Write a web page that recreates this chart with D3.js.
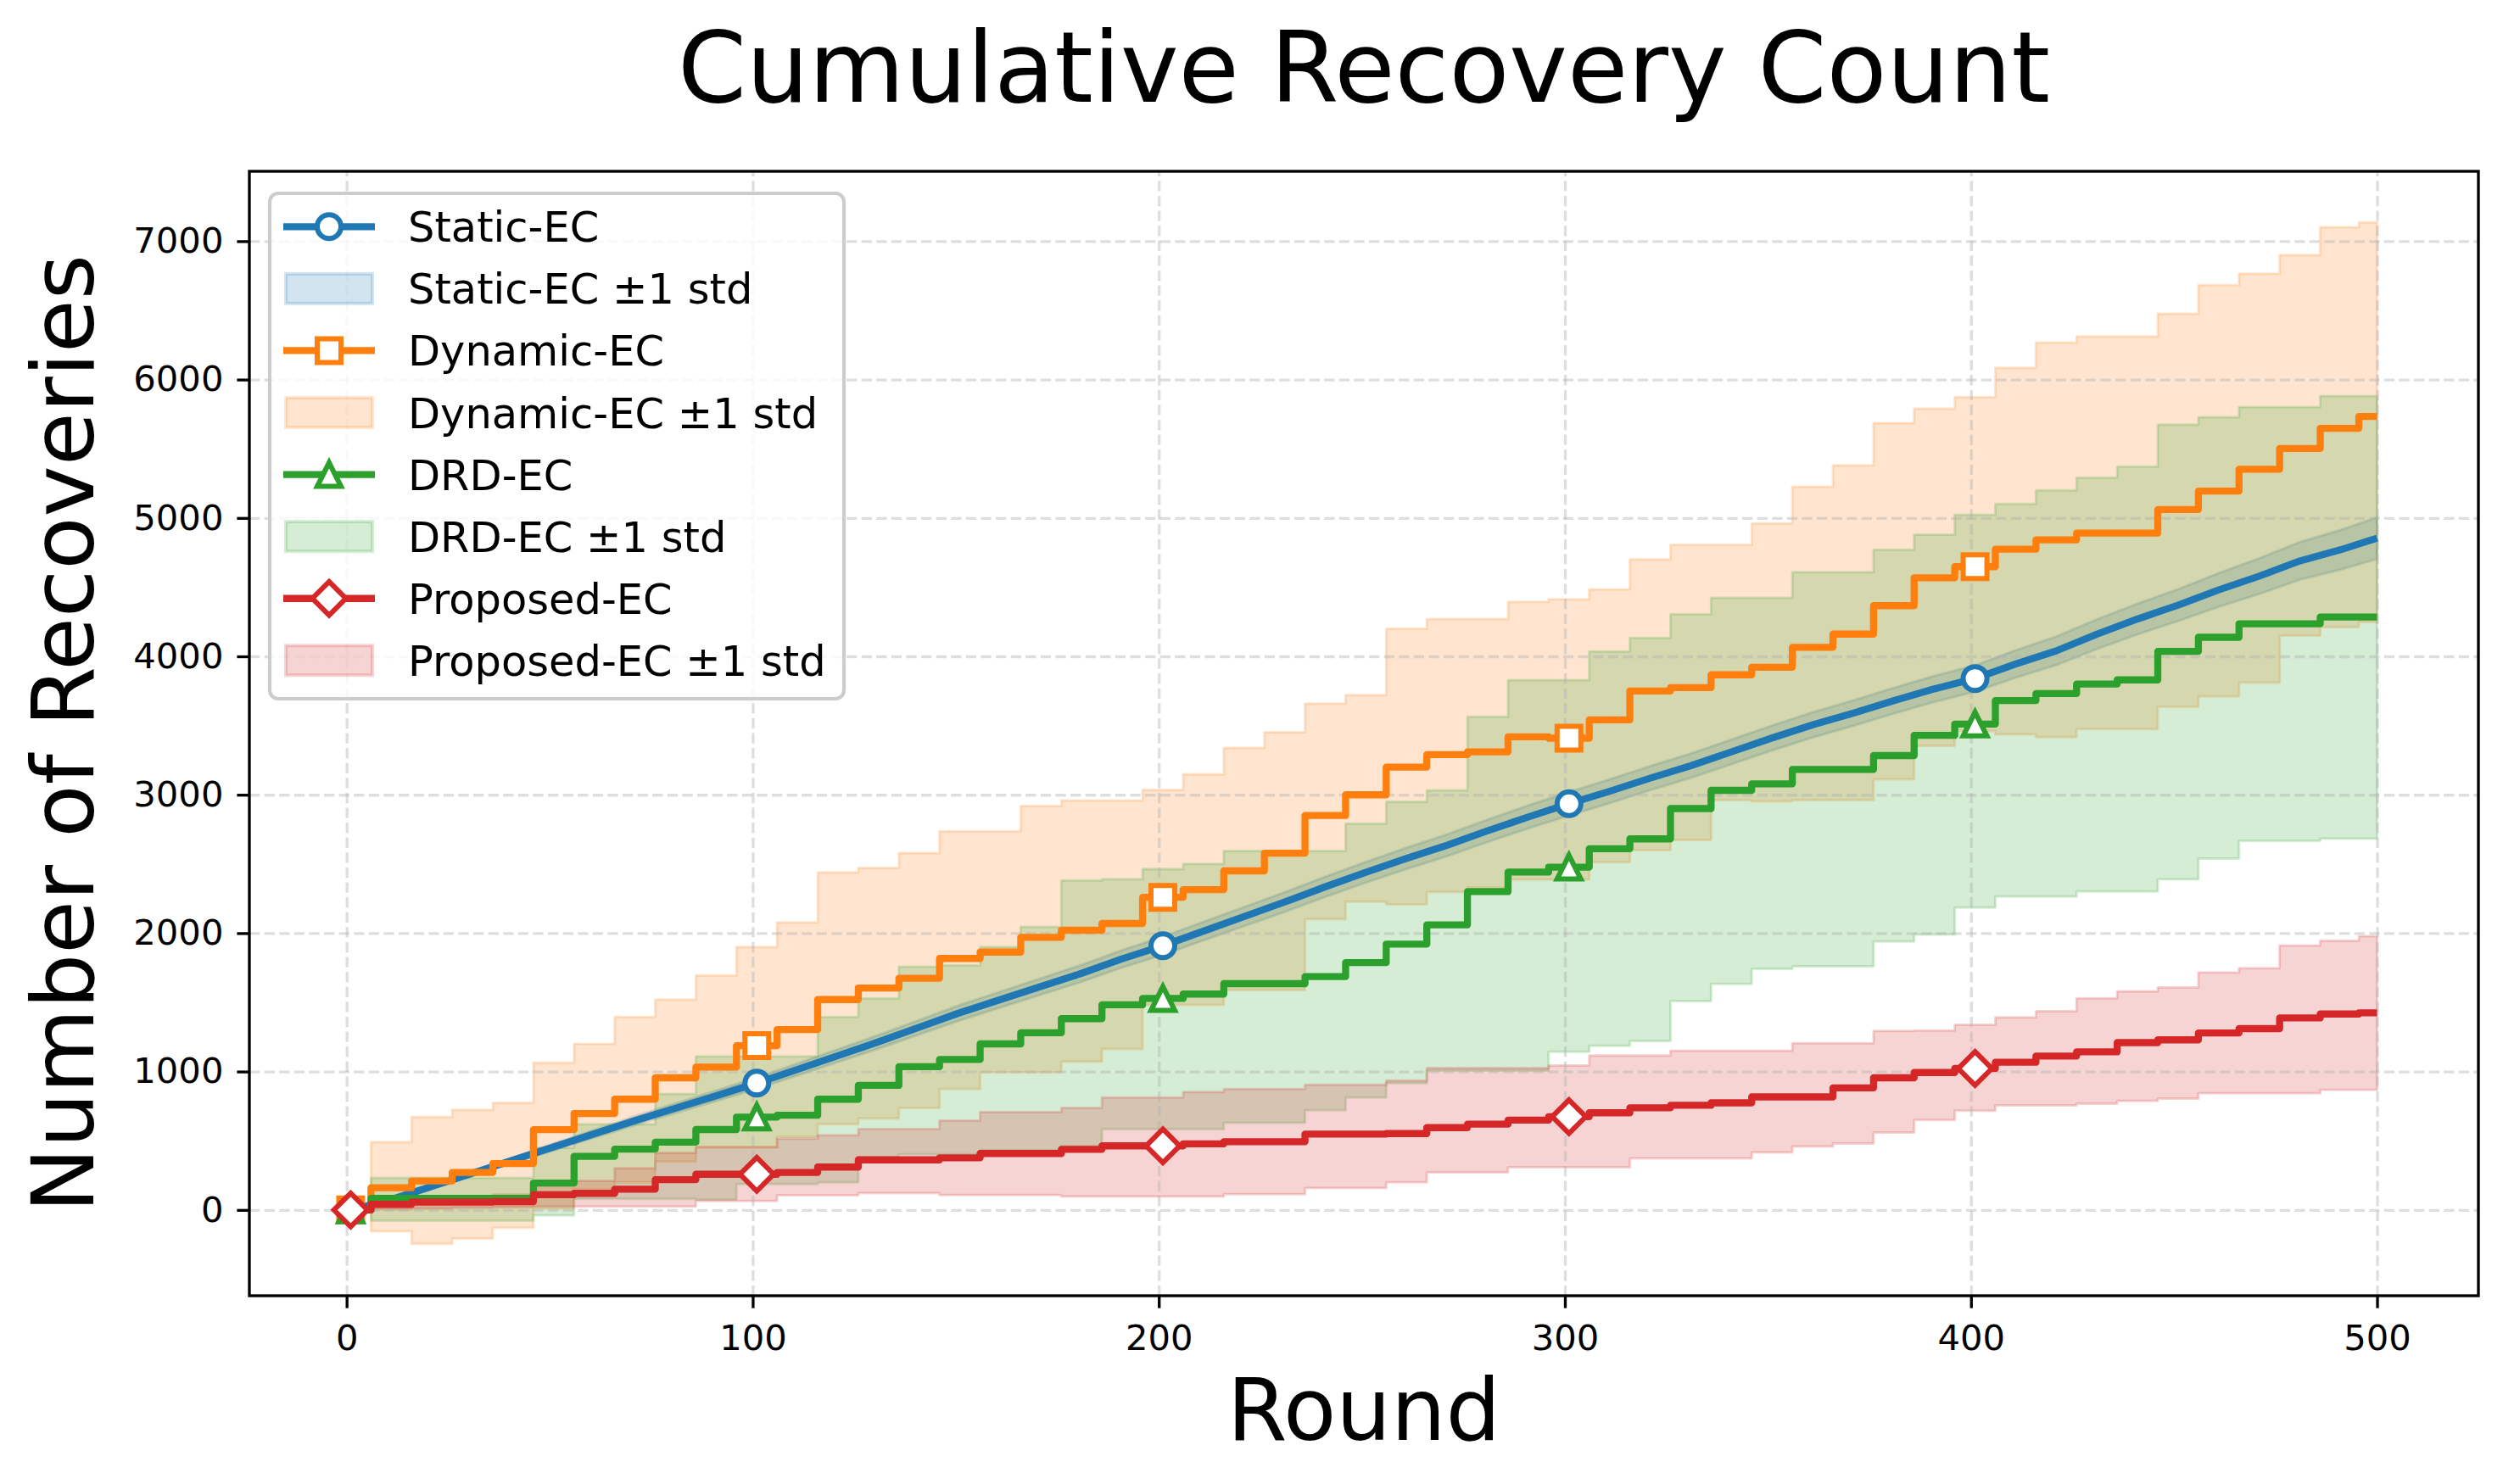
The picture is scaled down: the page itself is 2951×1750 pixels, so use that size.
<!DOCTYPE html>
<html>
<head>
<meta charset="utf-8">
<script src="https://cdn.jsdelivr.net/npm/d3@7"></script>
<style>
  body { margin: 0; background: #ffffff; }
  text { font-family: "DejaVu Sans", sans-serif; }
</style>
</head>
<body>
<svg id="chart" width="2951" height="1750"></svg>
<script>
// ---------------- DATA ----------------
const rounds = [1,11,21,31,41,51,61,71,81,91,101,111,121,131,141,151,161,171,181,191,
  201,211,221,231,241,251,261,271,281,291,301,311,321,331,341,351,361,371,381,391,
  401,411,421,431,441,451,461,471,481,491,500];

const xTicks = [0, 100, 200, 300, 400, 500];
const yTicks = [0, 1000, 2000, 3000, 4000, 5000, 6000, 7000];
const seriesNames = ["Static-EC", "Dynamic-EC", "DRD-EC", "Proposed-EC"];

const staticMean = [0,75,170,265,360,455,550,645,735,825, 916,1015,1115,1215,1320,1425,1520,1615,1710,1815,
  1909,2015,2120,2225,2335,2440,2540,2635,2740,2840, 2935,3025,3120,3210,3310,3410,3505,3590,3680,3765,
  3840,3945,4040,4160,4270,4370,4480,4580,4690,4770, 4854];
const staticStd = [0,8,12,16,20,25,28,32,35,38, 40,43,46,49,52,55,57,59,61,63,
  65,67,69,71,73,75,77,79,81,83, 85,86,87,88,89,90,91,92,93,94,
  95,99,103,107,111,115,122,129,136,143, 150];

const dynamicMean = [0,160,210,271,335,580,697,800,955,1032, 1187,1303,1520,1604,1674,1817,1863,1970,2021,2070,
  2259,2314,2450,2578,2850,3000,3200,3290,3310,3419, 3409,3541,3750,3774,3867,3921,4065,4161,4366,4568,
  4648,4774,4842,4891,4891,5061,5194,5352,5502,5648, 5733];
const dynamicHi = [0,490,671,723,774,1063,1200,1394,1520,1695, 1900,2077,2439,2472,2578,2737,2737,2919,2959,2959,
  3035,3148,3339,3452,3659,3720,4200,4269,4269,4394, 4412,4484,4700,4806,4806,4961,5226,5380,5685,5789,
  5874,6085,6267,6311,6311,6476,6682,6765,6900,7100, 7136];
const dynamicLo = [0,-155,-245,-206,-129,10,150,200,350,452, 452,529,620,660,737,874,995,995,1071,1163,
  1482,1482,1589,1589,2100,2228,2208,2297,2330,2387, 2387,2513,2600,2674,2961,2953,2961,2961,3111,3354,
  3461,3436,3416,3474,3474,3636,3711,3810,4150,4211, 4248];

const drdMean = [0,83,83,83,83,194,387,439,490,581, 671,684,800,900,1035,1087,1200,1280,1382,1482,
  1528,1560,1635,1635,1686,1787,1921,2060,2300,2441, 2477,2610,2681,2900,3032,3079,3183,3183,3283,3429,
  3511,3681,3731,3800,3830,4036,4138,4235,4235,4284, 4284];
const drdHi = [0,232,232,232,232,450,619,619,839,1110, 1110,1110,1394,1528,1757,1766,1900,2046,2381,2390,
  2463,2500,2594,2594,2594,2791,2950,3032,3563,3828, 3828,4036,4133,4305,4423,4423,4609,4609,4770,4879,
  5024,5102,5199,5291,5371,5675,5728,5801,5801,5881, 5881];
const drdLo = [0,-77,-77,-77,-77,-40,80,80,80,76, 188,188,200,382,402,402,432,432,460,584,
  584,584,630,630,721,813,917,1007,1007,1007, 1143,1186,1222,1509,1634,1742,1760,1760,1939,1990,
  2185,2264,2264,2302,2302,2389,2539,2668,2668,2683, 2683];

const proposedMean = [0,40,57,57,60,110,120,150,219,258, 258,271,310,362,362,377,408,408,438,463,
  463,478,493,493,548,548,552,595,620,649, 674,702,738,756,774,817,817,882,955,993,
  1022,1067,1112,1142,1209,1229,1279,1310,1387,1416, 1424];
const proposedHi = [0,60,95,100,110,200,210,300,413,454, 454,515,540,584,584,645,706,706,737,813,
  813,852,874,874,904,904,935,1025,1025,1025, 1043,1115,1115,1151,1151,1151,1204,1204,1294,1297,
  1337,1392,1436,1529,1579,1608,1716,1746,1910,1945, 1978];
const proposedLo = [0,5,10,15,20,25,25,25,25,65, 65,106,106,122,122,107,107,107,97,97,
  97,97,113,113,158,158,200,272,272,308, 308,308,373,373,373,416,459,480,560,650,
  718,756,756,768,788,805,843,843,843,868, 868];

const markIdx = [0, 10, 20, 30, 40];   // markevery = 100 rounds

// ---------------- CHART ----------------
const svg = d3.select("#chart");
const L = 294, R = 2922, T = 202, B = 1528;
const x = d3.scaleLinear().domain([-23.95, 524.95]).range([L, R]);
const y = d3.scaleLinear().domain([-620, 7505]).range([B, T]);

const LW = 8.33, MS = 28, MEW = 6;

const series = [
  { name: seriesNames[0], color: "#1f77b4", mean: staticMean,
    lo: staticMean.map((m, i) => m - staticStd[i]), hi: staticMean.map((m, i) => m + staticStd[i]),
    marker: "circle", curve: d3.curveLinear },
  { name: seriesNames[1], color: "#ff7f0e", mean: dynamicMean, lo: dynamicLo, hi: dynamicHi,
    marker: "square", curve: d3.curveStep },
  { name: seriesNames[2], color: "#2ca02c", mean: drdMean, lo: drdLo, hi: drdHi,
    marker: "triangle", curve: d3.curveStep },
  { name: seriesNames[3], color: "#d62728", mean: proposedMean, lo: proposedLo, hi: proposedHi,
    marker: "diamond", curve: d3.curveStep }
];

svg.append("rect").attr("x", 0).attr("y", 0).attr("width", 2951).attr("height", 1750).attr("fill", "#fff");

svg.append("clipPath").attr("id", "plotclip").append("rect")
  .attr("x", L).attr("y", T).attr("width", R - L).attr("height", B - T);

// bands (below grid)
const gBands = svg.append("g").attr("clip-path", "url(#plotclip)");
series.forEach(s => {
  const area = d3.area()
    .x((d, i) => x(rounds[i]))
    .y0((d, i) => y(s.lo[i]))
    .y1((d, i) => y(s.hi[i]))
    .curve(s.curve);
  gBands.append("path").datum(s.mean).attr("d", area)
    .attr("fill", s.color).attr("fill-opacity", 0.2)
    .attr("stroke", s.color).attr("stroke-opacity", 0.2).attr("stroke-width", 3)
    .attr("stroke-linejoin", "round");
});

// grid
const gridStyle = g => {
  g.select(".domain").remove();
  g.selectAll("line").attr("stroke", "#b0b0b0").attr("stroke-opacity", 0.42)
    .attr("stroke-width", 3.33).attr("stroke-dasharray", "12.3,5.3");
};
svg.append("g").attr("transform", `translate(0,${B})`)
  .call(d3.axisBottom(x).tickValues(xTicks).tickSize(-(B - T)).tickFormat(""))
  .call(gridStyle);
svg.append("g").attr("transform", `translate(${L},0)`)
  .call(d3.axisLeft(y).tickValues(yTicks).tickSize(-(R - L)).tickFormat(""))
  .call(gridStyle);

// marker shapes
function markerPath(type) {
  const h = MS / 2;
  if (type === "square") return `M${-h},${-h}H${h}V${h}H${-h}Z`;
  if (type === "triangle") return `M0,${-h}L${h},${h}L${-h},${h}Z`;
  if (type === "diamond") { const d = MS * 0.7071; return `M0,${-d}L${d},0L0,${d}L${-d},0Z`; }
  const p = d3.path(); p.arc(0, 0, h, 0, 2 * Math.PI); p.closePath(); return p.toString();
}

// lines + markers
const gLines = svg.append("g");
series.forEach(s => {
  const line = d3.line().x((d, i) => x(rounds[i])).y(d => y(d)).curve(s.curve);
  gLines.append("path").datum(s.mean).attr("d", line)
    .attr("fill", "none").attr("stroke", s.color).attr("stroke-width", LW)
    .attr("stroke-linejoin", "round").attr("stroke-linecap", "butt");
  gLines.selectAll(null).data(markIdx).enter().append("path")
    .attr("transform", i => `translate(${x(rounds[i])},${y(s.mean[i])})`)
    .attr("d", markerPath(s.marker))
    .attr("fill", "#fff").attr("stroke", s.color).attr("stroke-width", MEW)
    .attr("stroke-linejoin", "miter");
});

// axes ticks + labels
const tickStyle = g => {
  g.select(".domain").remove();
  g.selectAll("line").attr("stroke", "#000").attr("stroke-width", 3.33);
  g.selectAll("text").attr("fill", "#000").style("font-size", "41.7px")
    .style("font-family", "'DejaVu Sans', sans-serif");
};
svg.append("g").attr("transform", `translate(0,${B})`)
  .call(d3.axisBottom(x).tickValues(xTicks).tickSize(14.6).tickPadding(20).tickFormat(d3.format("d")))
  .call(tickStyle);
svg.append("g").attr("transform", `translate(${L},0)`)
  .call(d3.axisLeft(y).tickValues(yTicks).tickSize(14.6).tickPadding(16).tickFormat(d3.format("d")))
  .call(tickStyle);

// spines
svg.append("rect").attr("x", L).attr("y", T).attr("width", R - L).attr("height", B - T)
  .attr("fill", "none").attr("stroke", "#000").attr("stroke-width", 3.33);

// title and labels
svg.append("text").attr("x", (L + R) / 2).attr("y", 120).attr("text-anchor", "middle")
  .style("font-size", "116px").text("Cumulative Recovery Count");
svg.append("text").attr("x", (L + R) / 2).attr("y", 1698).attr("text-anchor", "middle")
  .style("font-size", "102px").text("Round");
svg.append("text").attr("transform", `translate(110,${(T + B) / 2}) rotate(-90)`)
  .attr("text-anchor", "middle").style("font-size", "102px").text("Number of Recoveries");

// legend
const lg = svg.append("g");
lg.append("rect").attr("x", 318).attr("y", 228).attr("width", 677).attr("height", 596)
  .attr("rx", 10).attr("ry", 10)
  .attr("fill", "#fff").attr("fill-opacity", 0.8)
  .attr("stroke", "#cccccc").attr("stroke-width", 4.17);
const legendItems = [];
series.forEach(s => {
  legendItems.push({ kind: "line", s, label: s.name });
  legendItems.push({ kind: "patch", s, label: s.name + " \u00b11 std" });
});
legendItems.forEach((it, k) => {
  const cy = 267.3 + k * 73.07;
  const g = lg.append("g");
  if (it.kind === "line") {
    g.append("line").attr("x1", 334).attr("x2", 442).attr("y1", cy).attr("y2", cy)
      .attr("stroke", it.s.color).attr("stroke-width", LW);
    g.append("path").attr("transform", `translate(388,${cy})`).attr("d", markerPath(it.s.marker))
      .attr("fill", "#fff").attr("stroke", it.s.color).attr("stroke-width", MEW);
  } else {
    g.append("rect").attr("x", 337).attr("y", cy - 17.5).attr("width", 102).attr("height", 35)
      .attr("fill", it.s.color).attr("fill-opacity", 0.2)
      .attr("stroke", it.s.color).attr("stroke-opacity", 0.2).attr("stroke-width", 4);
  }
  g.append("text").attr("x", 481).attr("y", cy + 18).style("font-size", "49.5px").text(it.label);
});
</script>
</body>
</html>
